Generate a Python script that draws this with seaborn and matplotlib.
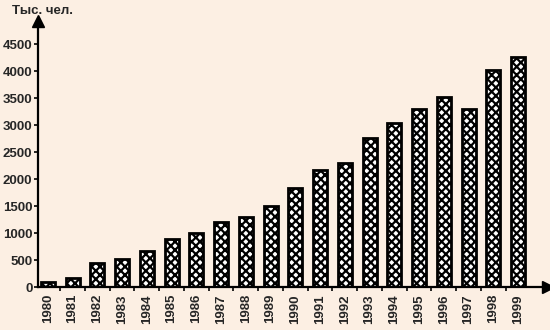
import matplotlib
matplotlib.use("Agg")
import matplotlib.pyplot as plt
import seaborn as sns
import pandas as pd

years = ["1980", "1981", "1982", "1983", "1984", "1985", "1986", "1987", "1988", "1989",
         "1990", "1991", "1992", "1993", "1994", "1995", "1996", "1997", "1998", "1999"]
values = [100, 175, 440, 520, 660, 890, 1000, 1200, 1290, 1510,
          1840, 2170, 2290, 2760, 3030, 3300, 3520, 3290, 4030, 4270]
yticks = [0, 500, 1000, 1500, 2000, 2500, 3000, 3500, 4000, 4500]
ylabel = "Тыс. чел."

bg = "#fcefe3"
sns.set_theme(style="white")
plt.rcParams["font.family"] = ["Liberation Sans", "DejaVu Sans"]
plt.rcParams["hatch.linewidth"] = 1.6
plt.rcParams["hatch.color"] = "black"

df = pd.DataFrame({"year": years, "value": values})

fig = plt.figure(figsize=(5.5, 3.3), dpi=100, facecolor=bg)
ax = fig.add_axes([0.069, 0.130, 0.927, 0.805])
ax.set_facecolor(bg)

sns.barplot(data=df, x="year", y="value", ax=ax, color="white", width=0.56,
            edgecolor="black", linewidth=2.0, saturation=1)
for p in ax.patches:
    p.set_hatch("xxxx")
    p.set_facecolor("white")
    p.set_edgecolor("black")

ax.set_xlim(-0.4, 20.2)
ax.set_ylim(0, 4920)
ax.set_yticks(yticks)
ax.set_yticklabels([str(v) for v in yticks], fontsize=9.5, fontweight="bold")
ax.set_xticks(range(len(years)))
ax.set_xticklabels(years, rotation=90, fontsize=9.5, fontweight="bold")
ax.set_xticks([i + 0.5 for i in range(len(years) - 1)], minor=True)
ax.tick_params(axis="x", which="major", length=0, pad=5)
ax.tick_params(axis="x", which="minor", length=3, width=1.2, color="black", direction="out", bottom=True)
ax.tick_params(axis="y", length=3, width=1.2, color="black", direction="out", left=True, pad=1)
ax.set_xlabel("")
ax.set_ylabel("")

for s in ["top", "right"]:
    ax.spines[s].set_visible(False)
for s in ["left", "bottom"]:
    ax.spines[s].set_color("black")
    ax.spines[s].set_linewidth(1.6)

ax.plot(1, 0, ">", color="black", markersize=8, transform=ax.transAxes, clip_on=False)
ax.plot(0, 1, "^", color="black", markersize=8, transform=ax.transAxes, clip_on=False)

fig.text(0.022, 0.968, ylabel, fontsize=9.5, fontweight="bold", ha="left", va="center")

fig.savefig("out.png", dpi=100, facecolor=bg)
